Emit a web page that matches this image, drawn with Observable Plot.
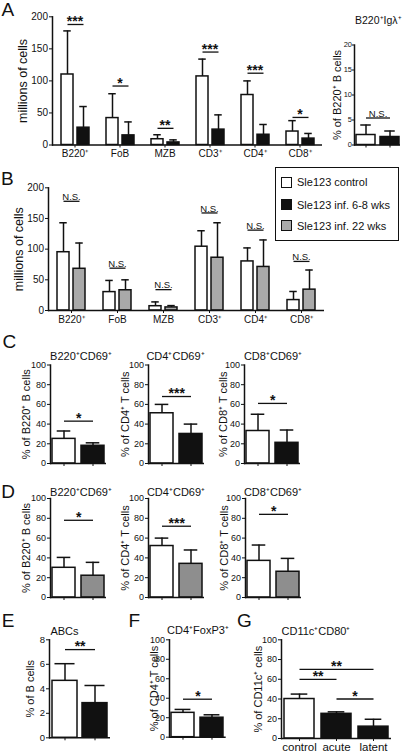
<!DOCTYPE html>
<html>
<head>
<meta charset="utf-8">
<script src="https://cdn.jsdelivr.net/npm/d3@7"></script>
<script src="https://cdn.jsdelivr.net/npm/@observablehq/plot@0.6"></script>
<style>
  html, body { margin: 0; padding: 0; background: #fff; }
  #root { position: relative; width: 404px; height: 753px; overflow: hidden;
          font-family: "Liberation Sans", Arial, Helvetica, sans-serif; color: #111; }
  .panel { position: absolute; }
  .panel svg { display: block; max-width: none; }
  .letter { position: absolute; font-size: 19px; line-height: 1; }
  .title { position: absolute; font-size: 11px; line-height: 1; white-space: nowrap; transform: translate(-50%, -50%); }
  .title.left { transform: translate(0, -50%); font-size: 10.5px; }
  .legend { position: absolute; left: 275px; top: 167px; width: 124px; height: 74px; box-sizing: border-box; border: 1.5px solid #111; background: #fff; }
  .legend .row { position: absolute; left: 0; font-size: 11px; line-height: 1; white-space: nowrap; transform: translateY(-50%); }
  .legend .sw { position: absolute; left: 5px; top: 50%; width: 11px; height: 11px; margin-top: -5.5px; box-sizing: border-box; border: 1.5px solid #111; }
  .legend .tx { position: absolute; left: 21px; top: 50%; transform: translateY(-50%); }
  .yl125 g[aria-label="y-axis label"] { font-size: 12.5px; }
  .yl11 g[aria-label="y-axis label"] { font-size: 11px; }
  .gx g[aria-label="x-axis tick label"] { font-size: 11.5px; }
</style>
</head>
<body>
<div id="root"></div>
<script>
// ---------------- DATA ----------------
// Panel A (millions of cells)
const catsAB = ["B220⁺", "FoB", "MZB", "CD3⁺", "CD4⁺", "CD8⁺"];
const aControlMean  = [110, 42, 9, 107, 78, 21];
const aControlUpper = [178, 80, 16, 134, 100, 38];
const aInfMean      = [27, 15, 4, 24, 16, 10];
const aInfUpper     = [60, 36, 8, 47, 32, 18];
const aSigY         = [188, 92, 26, 145, 112, 43];
const aSigLabel     = ["***", "*", "**", "***", "***", "*"];
const ticksCells    = [0, 50, 100, 150, 200];

// Panel A inset (% of B220+ B cells, B220+Igλ+)
const insetGroups = ["control", "inf"];
const insetMean   = [2.0, 1.6];
const insetUpper  = [4.0, 2.8];
const insetSigY   = [5.4];
const insetSigLabel = ["N.S."];
const ticksInset  = [0, 5, 10, 15, 20];

// Panel B (millions of cells)
const bControlMean  = [95, 30, 7, 104, 80, 17];
const bControlUpper = [143, 49, 14, 130, 102, 31];
const bLateMean     = [68, 33, 5, 86, 71, 34];
const bLateUpper    = [110, 50, 8, 143, 115, 66];
const bSigY         = [178, 69, 34, 159, 131, 80];
const bSigLabel     = ["N.S.", "N.S.", "N.S.", "N.S.", "N.S.", "N.S."];

// Legend
const legendLabels = ["Sle123 control", "Sle123 inf. 6-8 wks", "Sle123 inf. 22 wks"];

// Panels C & D (CD69+ percentages)
const cdTitles  = ["B220⁺CD69⁺", "CD4⁺CD69⁺", "CD8⁺CD69⁺"];
const cdYLabels = ["% of B220⁺ B cells", "% of CD4⁺ T cells", "% of CD8⁺ T cells"];
const cControlMean  = [25, 51, 33];
const cControlUpper = [33, 60, 50];
const cInfMean      = [18, 30, 21];
const cInfUpper     = [21, 40, 34];
const cSigY         = [43, 68, 61];
const cSigLabel     = ["*", "***", "*"];
const dControlMean  = [30, 52, 37];
const dControlUpper = [40.5, 60, 53];
const dLateMean     = [22, 34, 26];
const dLateUpper    = [35.5, 48, 39.5];
const dSigY         = [78, 72, 84];
const dSigLabel     = ["*", "***", "*"];
const ticksPct      = [0, 20, 40, 60, 80, 100];

// Panel E (ABCs)
const eMean  = [4.65, 2.83];
const eUpper = [6.05, 4.27];
const eSigY  = [7.2];
const eSigLabel = ["**"];
const ticksE = [0, 2, 4, 6, 8];

// Panel F (CD4+FoxP3+)
const fMean  = [25, 20];
const fUpper = [28.5, 23];
const fSigY  = [39];
const fSigLabel = ["*"];

// Panel G (CD11c+CD80+)
const gGroups = ["control", "acute", "latent"];
const gMean   = [40, 25, 12];
const gUpper  = [45, 27, 19.5];
const gSigFrom  = ["control", "control", "acute"];
const gSigTo    = ["latent", "acute", "latent"];
const gSigY     = [70, 60, 40];
const gSigLabel = ["**", "**", "*"];

// ---------------- STYLE ----------------
const FONT = '"Liberation Sans", Arial, Helvetica, sans-serif';
const INK = "#111111";
const FILL_CONTROL = "#ffffff";
const FILL_ACUTE = "#111111";
const FILL_LATE_B = "#a9a9a9";
const FILL_LATE_D = "#8e8e8e";

const root = document.getElementById("root");

function place(node, left, top, cls) {
  const div = document.createElement("div");
  div.className = "panel " + (cls || "");
  div.style.left = left + "px";
  div.style.top = top + "px";
  div.appendChild(node);
  root.appendChild(div);
}
function addText(cls, text, left, top) {
  const d = document.createElement("div");
  d.className = cls;
  d.textContent = text;
  d.style.left = left + "px";
  d.style.top = top + "px";
  root.appendChild(d);
}

const starText = {fontSize: 14, fontWeight: "bold", dy: -3};
const nsText = {fontSize: 9.5, fontWeight: "normal", dy: -4.5};

// ---------- faceted grouped panel (A, B) ----------
function facetPanel({cats, ctrlMean, ctrlUpper, otherMean, otherUpper, otherFill, sigY, sigLabel, sigStyle,
                     yTicks, yLabel, labelOffset, W, H, mL, mR, mT, mB}) {
  const groups = ["ctrl", "other"];
  const bars = cats.flatMap((c, i) => [
    {cat: c, g: "ctrl", mean: ctrlMean[i], upper: ctrlUpper[i], fill: FILL_CONTROL},
    {cat: c, g: "other", mean: otherMean[i], upper: otherUpper[i], fill: otherFill}
  ]);
  const sig = cats.map((c, i) => ({cat: c, a: "ctrl", b: "other", y: sigY[i], label: sigLabel[i]}));
  const pi = 0.25, po = 0.5;
  const bw = d3.scaleBand().domain(groups).range([0, (W - mL - mR) / cats.length]).paddingInner(pi).paddingOuter(po).bandwidth();
  return Plot.plot({
    width: W, height: H, marginLeft: mL, marginRight: mR, marginTop: mT, marginBottom: mB,
    style: {background: "transparent", overflow: "visible", fontSize: "10px", fontFamily: FONT, color: INK},
    fx: {domain: cats, padding: 0, axis: "bottom", tickSize: 3, tickPadding: 2, label: null},
    x: {domain: groups, paddingInner: pi, paddingOuter: po, axis: null},
    y: {domain: [0, yTicks[yTicks.length - 1]], ticks: yTicks, tickSize: 3, tickPadding: 1.5,
        label: yLabel, labelAnchor: "center", labelOffset, labelArrow: "none"},
    color: {type: "identity"},
    marks: [
      Plot.barY(bars, {fx: "cat", x: "g", y: "mean", fill: "fill", stroke: INK, strokeWidth: 1.5}),
      Plot.ruleX(bars, {fx: "cat", x: "g", y1: "mean", y2: "upper", stroke: INK, strokeWidth: 1.5}),
      Plot.tickY(bars, {fx: "cat", x: "g", y: "upper", stroke: INK, strokeWidth: 1.5, inset: bw * 0.18}),
      Plot.link(sig, {fx: "cat", x1: "a", x2: "b", y1: "y", y2: "y", stroke: INK, strokeWidth: 1.3}),
      Plot.text(sig, {fx: "cat", y: "y", text: "label", frameAnchor: "middle", fill: INK, ...sigStyle}),
      Plot.ruleY([0], {stroke: INK, strokeWidth: 1.5}),
      Plot.frame({anchor: "left", facetAnchor: "left", stroke: INK, strokeWidth: 1.5})
    ]
  });
}

// ---------- simple panel (inset, C, D, E, F, G) ----------
function smallPanel({groups, means, uppers, fills, sig, sigStyle, yMax, yTicks, yLabel, labelOffset,
                     W, H, mL, mR, mT, mB, pi, po, capFrac, tickFont, xLabels, tickSize = 3, tickPadding = 1.5}) {
  const bars = groups.map((g, i) => ({g, mean: means[i], upper: uppers[i], fill: fills[i]}));
  const band = d3.scaleBand().domain(groups).range([mL, W - mR]).paddingInner(pi).paddingOuter(po);
  const step = band.step(), bw = band.bandwidth();
  const sigMarks = sig.flatMap(s => {
    const i1 = groups.indexOf(s.from), i2 = groups.indexOf(s.to);
    const mid = (i1 + i2) / 2, base = Math.floor(mid);
    return [
      Plot.link([s], {x1: "from", x2: "to", y1: "y", y2: "y", stroke: INK, strokeWidth: 1.3}),
      Plot.text([s], {x: () => groups[base], y: "y", text: "label", fill: INK, ...sigStyle,
                      dx: (mid - base) * step})
    ];
  });
  return Plot.plot({
    width: W, height: H, marginLeft: mL, marginRight: mR, marginTop: mT, marginBottom: mB,
    style: {background: "transparent", overflow: "visible", fontSize: tickFont + "px", fontFamily: FONT, color: INK},
    x: {domain: groups, paddingInner: pi, paddingOuter: po, tickSize: 3, tickPadding: 1, label: null,
        tickFormat: xLabels ? (d => d) : (() => "")},
    y: {domain: [0, yMax], ticks: yTicks, tickSize, tickPadding,
        label: yLabel, labelAnchor: "center", labelOffset, labelArrow: "none"},
    color: {type: "identity"},
    marks: [
      Plot.barY(bars, {x: "g", y: "mean", fill: "fill", stroke: INK, strokeWidth: 1.5}),
      Plot.ruleX(bars, {x: "g", y1: "mean", y2: "upper", stroke: INK, strokeWidth: 1.5}),
      Plot.tickY(bars, {x: "g", y: "upper", stroke: INK, strokeWidth: 1.5, inset: bw * (1 - capFrac) / 2}),
      ...sigMarks,
      Plot.ruleY([0], {stroke: INK, strokeWidth: 1.5}),
      Plot.frame({anchor: "left", stroke: INK, strokeWidth: 1.5})
    ]
  });
}

// ---------------- PANEL A ----------------
place(facetPanel({
  cats: catsAB, ctrlMean: aControlMean, ctrlUpper: aControlUpper, otherMean: aInfMean, otherUpper: aInfUpper,
  otherFill: FILL_ACUTE, sigY: aSigY, sigLabel: aSigLabel, sigStyle: starText,
  yTicks: ticksCells, yLabel: "millions of cells", labelOffset: 34,
  W: 330, H: 170, mL: 49, mR: 6, mT: 16.3, mB: 25.5
}), 0, 0, "yl125");

// inset
place(smallPanel({
  groups: insetGroups, means: insetMean, uppers: insetUpper, fills: [FILL_CONTROL, FILL_ACUTE],
  sig: insetSigY.map((y, i) => ({from: insetGroups[0], to: insetGroups[1], y, label: insetSigLabel[i]})),
  sigStyle: nsText, yMax: 20, yTicks: ticksInset, yLabel: "% of B220⁺ B cells", labelOffset: 21,
  W: 104, H: 170, mL: 54, mR: 4, mT: 44.5, mB: 25.5, pi: 0.22, po: 0.06, capFrac: 0.55, tickFont: 7.5,
  xLabels: false, tickSize: 2, tickPadding: 0.5
}), 300, 0, "yl11");
addText("title left", "B220⁺Igλ⁺", 355, 20);

// ---------------- PANEL B ----------------
place(facetPanel({
  cats: catsAB, ctrlMean: bControlMean, ctrlUpper: bControlUpper, otherMean: bLateMean, otherUpper: bLateUpper,
  otherFill: FILL_LATE_B, sigY: bSigY, sigLabel: bSigLabel, sigStyle: nsText,
  yTicks: ticksCells, yLabel: "millions of cells", labelOffset: 34.7,
  W: 330, H: 165, mL: 48, mR: 6, mT: 17.3, mB: 25
}), 0, 170, "yl125");

// legend
(function () {
  const box = document.createElement("div");
  box.className = "legend";
  const fills = [FILL_CONTROL, FILL_ACUTE, FILL_LATE_B];
  const rowTops = [15.7, 38, 59];
  legendLabels.forEach((lab, i) => {
    const row = document.createElement("div");
    row.className = "row";
    row.style.top = (rowTops[i] - 1.5) + "px";
    row.style.height = "14px";
    row.style.width = "120px";
    const sw = document.createElement("div");
    sw.className = "sw";
    sw.style.background = fills[i];
    const tx = document.createElement("div");
    tx.className = "tx";
    tx.textContent = lab;
    row.appendChild(sw); row.appendChild(tx);
    box.appendChild(row);
  });
  root.appendChild(box);
})();

// ---------------- PANELS C & D ----------------
const cdAxisX = [[50, 147.5, 244], [50, 147.7, 245]];
const cdTitleX = [[81, 175.5, 273], [81, 176, 273]];
const cdLabelOffsets = [28.3, 27.5, 25.7];
[0, 1, 2].forEach(k => {
  // C
  place(smallPanel({
    groups: ["control", "inf"], means: [cControlMean[k], cInfMean[k]], uppers: [cControlUpper[k], cInfUpper[k]],
    fills: [FILL_CONTROL, FILL_ACUTE],
    sig: [{from: "control", to: "inf", y: cSigY[k], label: cSigLabel[k]}], sigStyle: starText,
    yMax: 100, yTicks: ticksPct, yLabel: cdYLabels[k], labelOffset: cdLabelOffsets[k],
    W: 112, H: 118, mL: 50, mR: 6, mT: 6.5, mB: 13, pi: 0.2, po: 0.05, capFrac: 0.6, tickFont: 9, xLabels: false
  }), cdAxisX[0][k] - 50, 358, "yl11");
  addText("title", cdTitles[k], cdTitleX[0][k], 356);
  // D
  place(smallPanel({
    groups: ["control", "late"], means: [dControlMean[k], dLateMean[k]], uppers: [dControlUpper[k], dLateUpper[k]],
    fills: [FILL_CONTROL, FILL_LATE_D],
    sig: [{from: "control", to: "late", y: dSigY[k], label: dSigLabel[k]}], sigStyle: starText,
    yMax: 100, yTicks: ticksPct, yLabel: cdYLabels[k], labelOffset: cdLabelOffsets[k],
    W: 112, H: 118, mL: 50, mR: 6, mT: 6, mB: 13, pi: 0.2, po: 0.05, capFrac: 0.6, tickFont: 9, xLabels: false
  }), cdAxisX[1][k] - 50, 492, "yl11");
  addText("title", cdTitles[k], cdTitleX[1][k], 492.3);
});

// ---------------- PANEL E ----------------
place(smallPanel({
  groups: ["control", "inf"], means: eMean, uppers: eUpper, fills: [FILL_CONTROL, FILL_ACUTE],
  sig: eSigY.map((y, i) => ({from: "control", to: "inf", y, label: eSigLabel[i]})), sigStyle: starText,
  yMax: 8, yTicks: ticksE, yLabel: "% of B cells", labelOffset: 23,
  W: 116, H: 120, mL: 49, mR: 6, mT: 6.3, mB: 15.7, pi: 0.18, po: 0.1, capFrac: 0.8, tickFont: 9.5, xLabels: false
}), 0, 633, "yl11");
addText("title", "ABCs", 64.5, 631);

// ---------------- PANEL F ----------------
place(smallPanel({
  groups: ["control", "inf"], means: fMean, uppers: fUpper, fills: [FILL_CONTROL, FILL_ACUTE],
  sig: fSigY.map((y, i) => ({from: "control", to: "inf", y, label: fSigLabel[i]})), sigStyle: starText,
  yMax: 100, yTicks: ticksPct, yLabel: "% of CD4⁺ T cells", labelOffset: 19.5,
  W: 112.7, H: 120, mL: 50, mR: 6, mT: 6.3, mB: 16.3, pi: 0.2, po: 0.05, capFrac: 0.7, tickFont: 9, xLabels: false
}), 119.3, 633, "yl11");
addText("title", "CD4⁺FoxP3⁺", 198, 630);

// ---------------- PANEL G ----------------
place(smallPanel({
  groups: gGroups, means: gMean, uppers: gUpper, fills: [FILL_CONTROL, FILL_ACUTE, FILL_ACUTE],
  sig: gSigY.map((y, i) => ({from: gSigFrom[i], to: gSigTo[i], y, label: gSigLabel[i]})), sigStyle: starText,
  yMax: 100, yTicks: ticksPct, yLabel: "% of CD11c⁺ cells", labelOffset: 27,
  W: 173, H: 120, mL: 50, mR: 13, mT: 6.3, mB: 15, pi: 0.2, po: 0.08, capFrac: 0.55, tickFont: 9, xLabels: true
}), 231, 633, "yl11 gx");
addText("title", "CD11c⁺CD80⁺", 316, 631);

// ---------------- PANEL LETTERS ----------------
addText("letter", "A", 1.5, 0);
addText("letter", "B", 1, 169.3);
addText("letter", "C", 2.4, 331.6);
addText("letter", "D", 1.2, 481.6);
addText("letter", "E", 1.8, 611);
addText("letter", "F", 128.5, 611);
addText("letter", "G", 237, 611);
</script>
</body>
</html>
